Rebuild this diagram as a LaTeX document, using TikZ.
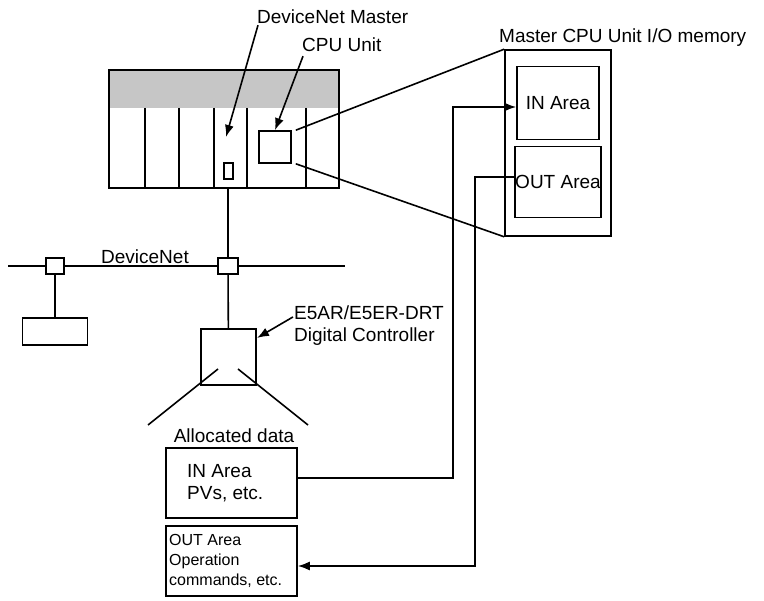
\documentclass[tikz,border=0pt]{standalone}
\usepackage{fontspec}
\setmainfont{Liberation Sans}
\usetikzlibrary{positioning,arrows.meta}
\tikzset{box/.style = {draw, line width=1.6pt, minimum width=#1, inner sep=0pt},
    lbl/.style = {inner sep=1pt, font=\fontsize{19}{22}\selectfont, align=left},
    ln/.style = {line width=1.6pt},
    arr/.style = {-{Latex[length=12pt,width=9pt]}, line width=1.6pt}}
\begin{document}
\begin{tikzpicture}[x=1pt,y=-1pt]
    \useasboundingbox (0,0) rectangle (764,601);
    % PLC rack
    \fill[gray!45](109,70)rectangle(339,108);
    \draw[ln](109,70)rectangle(339,188);
    \foreach \x in {145,179,214,247,306}
        \draw[ln](\x,108)--(\x,188);
    \node[box=9pt,minimum height=16pt](slot)at(228.5,171){};
    \node[box=32pt,minimum height=32pt](cpu)at(275,147){};
    \coordinate(masterTip)at(226,137);
    \coordinate(rackBot)at(228,188);
    \node[lbl,anchor=west](mLbl)at(256,17){DeviceNet Master};
    \node[lbl,anchor=west](cLbl)at(301,45){CPU Unit};
    \draw[arr]([xshift=2pt]mLbl.south west)--(masterTip);
    \draw[arr]([xshift=2pt,yshift=-3pt]cLbl.south west)--(cpu.north);

    % I/O memory
    \node[box=106pt,minimum height=186pt](mem)at(558,143){};
    \node[lbl,anchor=south west](memLbl)at(498,48){Master CPU Unit I/O memory};
    \node[box=82pt,minimum height=73pt,lbl,inner sep=0pt](inA)at(558,103){IN Area};
    \node[box=82pt,minimum height=71pt,lbl,inner sep=0pt](outA)at(558,182){OUT Area};
    \draw[ln](cpu.north east)++(4,0)--(mem.north west);
    \draw[ln](cpu.south east)++(4,0)--(mem.south west);

    % DeviceNet
    \coordinate(netL)at(8,266);
    \coordinate(netR)at(345,266);
    \draw[ln](netL)--(netR);
    \node[lbl,anchor=south](netLbl)at(145,265){DeviceNet};
    \node[box=18pt,minimum height=16pt,fill=white](tapL)at(55,266){};
    \node[box=20pt,minimum height=16pt,fill=white](tapR)at(228,266){};
    \node[box=65pt,minimum height=27pt](slave)at(55,331.5){};
    \draw[ln](tapL)--(slave);
    \draw[ln](rackBot)--(tapR);

    % controller
    \node[box=55pt,minimum height=56pt](ctrl)at(228.5,357){};
    \draw[ln](tapR)--(ctrl);
    \node[lbl,anchor=west](ctrlLbl)at(293,326){E5AR/E5ER-DRT\\Digital Controller};
    \coordinate(ctrlTip)at(257,338);
    \draw[arr](ctrlLbl.north west)++(0,12)--(ctrlTip);
    \draw[ln](218,369)--(148,425);
    \draw[ln](238,369)--(308,425);
    \node[lbl](alloc)at(234,436){Allocated data};
    \node[box=131pt,minimum height=70pt](inPv)at(231.5,483){};
    \node[lbl,anchor=west]at(186,483){IN Area\\PVs, etc.};
    \node[box=131pt,minimum height=70pt](outCmd)at(231.5,561){};
    \node[lbl,anchor=west,font=\fontsize{16}{20}\selectfont]at(168,561){OUT Area\\Operation\\commands, etc.};

    % data flow
    \draw[arr]([yshift=5pt]inPv.east)-|(453,107)--(inA.west|-453,107);
    \draw[arr]([yshift=5pt]outA.west)-|(475,566)--(outCmd.east|-475,566);
\end{tikzpicture}
\end{document}
